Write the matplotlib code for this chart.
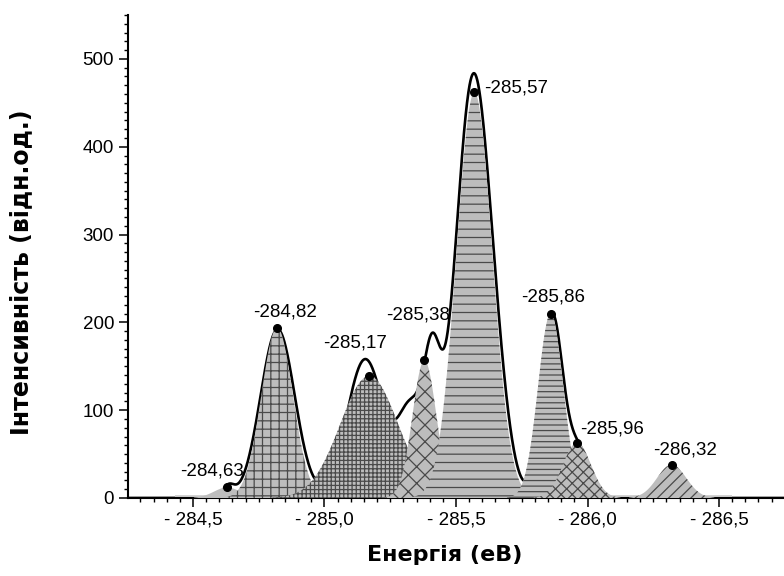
import numpy as np
import matplotlib
matplotlib.use("Agg")
import matplotlib.pyplot as plt
from matplotlib.ticker import FixedLocator, FixedFormatter, MultipleLocator

# fitted components: centre (eV), height, width (sigma, eV)
peak_centers = [-284.63, -284.82, -285.17, -285.38, -285.57, -285.86, -285.96, -286.32]
peak_heights = [12, 194, 139, 157, 462, 210, 63, 38]
peak_widths = [0.05, 0.06, 0.11, 0.045, 0.068, 0.048, 0.053, 0.055]
peak_labels = ['-284,63', '-284,82', '-285,17', '-285,38', '-285,57', '-285,86', '-285,96', '-286,32']

# measured spectrum, described as a sum of bands
env_centers = [-284.635, -284.822, -285.155, -285.33, -285.41, -285.565, -285.66, -285.865, -285.965, -286.325]
env_heights = [13, 192, 158, 100, 130, 475, 50, 205, 55, 36]
env_widths = [0.022, 0.065, 0.07, 0.05, 0.032, 0.066, 0.05, 0.04, 0.045, 0.04]

# flat background strip under the peaks
base_range = [-284.43, -286.55]
base_level = 3

x_ticks = [-284.5, -285.0, -285.5, -286.0, -286.5]
x_tick_labels = ['- 284,5', '- 285,0', '- 285,5', '- 286,0', '- 286,5']
y_ticks = [0, 100, 200, 300, 400, 500]

# hatch / label placement (pixels from the dot)
hatches = ['', '++', '++++', 'xx', '--', '---', 'xxx', '///']
label_offsets = [(-15, 16), (8, 16), (-14, 33), (-6, 45), (42, 4), (2, 17), (35, 14), (13, 15)]


def gauss(x, c, h, s):
    return h * np.exp(-0.5 * ((x - c) / s) ** 2)


plt.rcParams['hatch.linewidth'] = 0.9
plt.rcParams['hatch.color'] = '#4a4a4a'

fig = plt.figure(figsize=(7.84, 5.76), dpi=100)
ax = fig.add_axes([128 / 784, 78 / 576, 656 / 784, 483 / 576])

x = np.linspace(-284.2, -286.8, 3000)

# envelope goes under the component fills
env = np.zeros_like(x)
for c, h, s in zip(env_centers, env_heights, env_widths):
    env += gauss(x, c, h, s)
ax.plot(x, env, color='black', lw=1.9, zorder=2)

ax.fill_between(base_range, 0, base_level, color='#d2d2d2', lw=0, zorder=2.5)

for i, (c, h, s) in enumerate(zip(peak_centers, peak_heights, peak_widths)):
    y = gauss(x, c, h, s)
    ax.fill_between(x, 0, y, where=y > 0.5, facecolor='#bdbdbd', edgecolor='#4a4a4a',
                    hatch=hatches[i], linewidth=0, zorder=3 + i * 0.1)
    ax.plot(c, h, 'o', color='black', ms=5.5, zorder=10)
    dx, dy = label_offsets[i]
    ax.annotate(peak_labels[i], (c, h), xytext=(dx, dy), textcoords='offset pixels',
                ha='center', va='center', fontsize=13.5, family='Liberation Sans', zorder=11)

ax.set_xlim(-284.253, -286.747)
ax.set_ylim(0, 550)

ax.xaxis.set_major_locator(FixedLocator(x_ticks))
ax.xaxis.set_major_formatter(FixedFormatter(x_tick_labels))
ax.xaxis.set_minor_locator(MultipleLocator(0.05))
ax.yaxis.set_major_locator(FixedLocator(y_ticks))
ax.yaxis.set_minor_locator(MultipleLocator(10))

ax.tick_params(which='major', direction='out', length=6.5, width=1.1, labelsize=13.5)
ax.tick_params(which='minor', direction='out', length=3.2, width=1.0)
for lab in ax.get_xticklabels() + ax.get_yticklabels():
    lab.set_family('Liberation Sans')

for side in ['top', 'right']:
    ax.spines[side].set_visible(False)
for side in ['left', 'bottom']:
    ax.spines[side].set_linewidth(1.5)

ax.set_xlabel('Енергія (еВ)', fontsize=16, fontweight='bold', family='DejaVu Sans')
ax.set_ylabel('Інтенсивність (відн.од.)', fontsize=17, fontweight='bold', family='DejaVu Sans')
ax.xaxis.set_label_coords(0.483, -0.097)
ax.yaxis.set_label_coords(-0.145, 0.468)

fig.savefig('out.png', dpi=100)
